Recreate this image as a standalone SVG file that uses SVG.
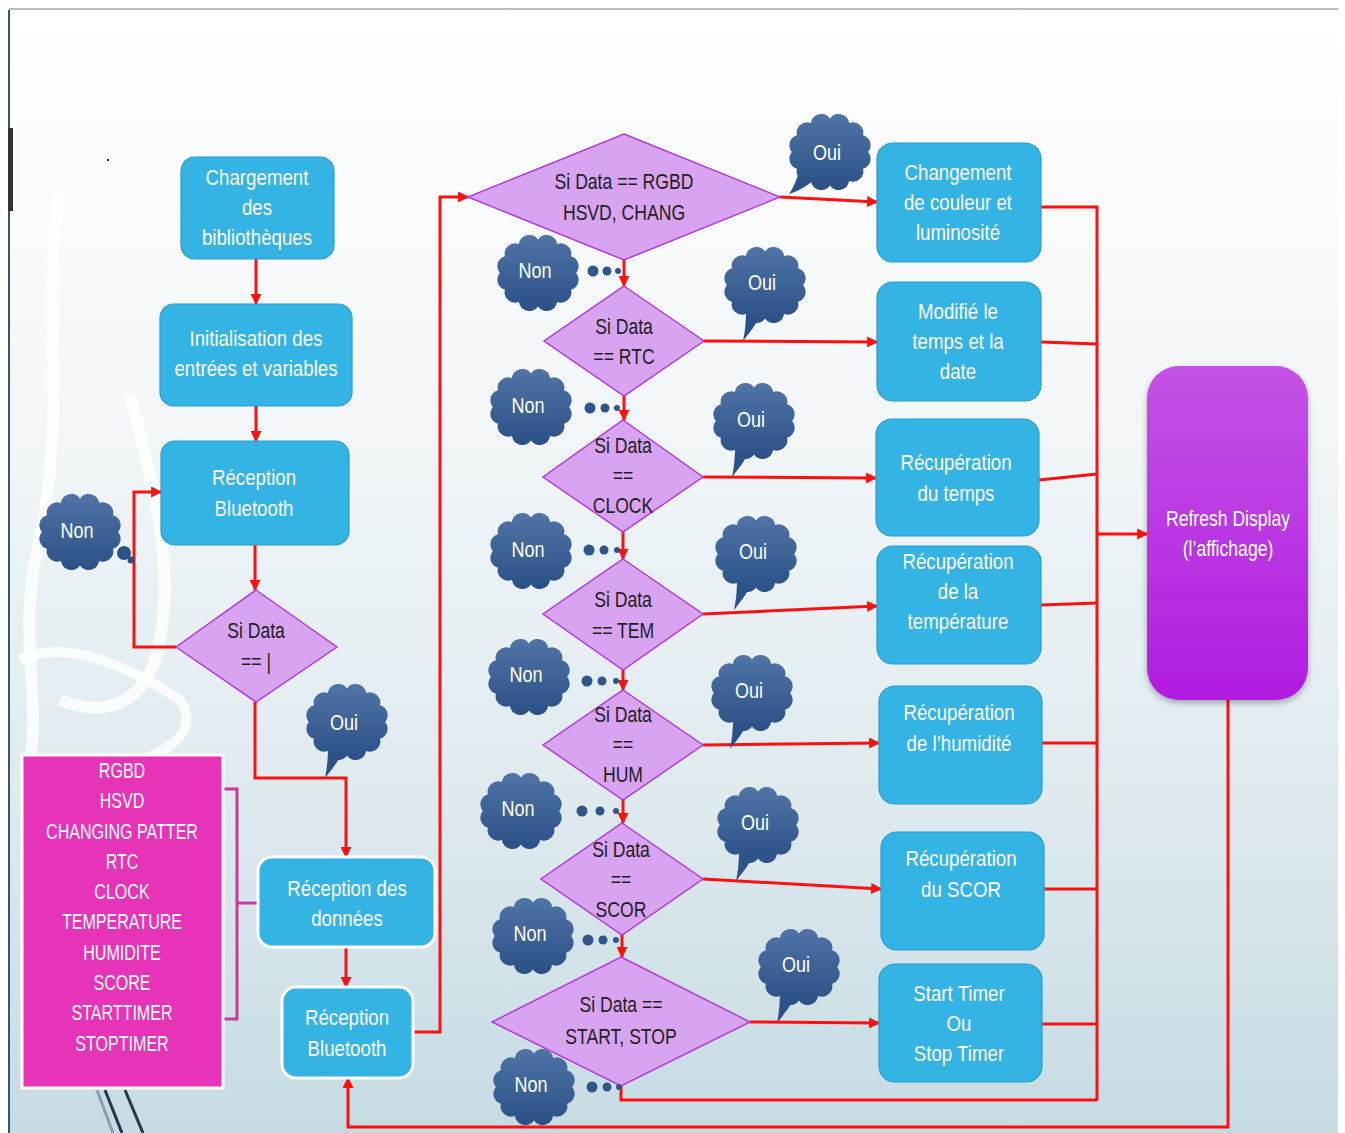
<svg xmlns="http://www.w3.org/2000/svg" xmlns:xlink="http://www.w3.org/1999/xlink" width="1345" height="1133" viewBox="0 0 1345 1133">
<defs>
<style>
.box{fill:#33b4e4;stroke:#2a9ccc;stroke-width:1.2}
.boxw{fill:#33b4e4;stroke:#ffffff;stroke-width:3}
.dia{fill:#d8a3f0;stroke:#b23bd8;stroke-width:1.5}
.t{font-family:"Liberation Sans",Arial,sans-serif;font-size:22px;text-anchor:middle}
.tw{fill:#ffffff}
.tk{fill:#1e1e1e}
.ln{fill:none;stroke:#ff1010;stroke-width:3;stroke-linejoin:miter}
.arr{marker-end:url(#ah)}
.dot{fill:#2f5589}
</style>
<linearGradient id="bg" x1="0" y1="0" x2="0" y2="1">
<stop offset="0" stop-color="#ffffff"/>
<stop offset="0.35" stop-color="#f3f7f9"/>
<stop offset="0.7" stop-color="#dfeaef"/>
<stop offset="1" stop-color="#c6dbe3"/>
</linearGradient>
<linearGradient id="cg" x1="0" y1="0" x2="0" y2="1">
<stop offset="0" stop-color="#5074a6"/>
<stop offset="1" stop-color="#2b5086"/>
</linearGradient>
<linearGradient id="rg" x1="0" y1="0" x2="0" y2="1">
<stop offset="0" stop-color="#c452e6"/>
<stop offset="1" stop-color="#b11ce0"/>
</linearGradient>
<filter id="sh" x="-10%" y="-10%" width="120%" height="120%">
<feDropShadow dx="0" dy="3" stdDeviation="3" flood-color="#000" flood-opacity="0.3"/>
</filter>
<marker id="ah" viewBox="0 0 10 10" refX="9" refY="5" markerWidth="12" markerHeight="11" markerUnits="userSpaceOnUse" orient="auto">
<path d="M0,0 L10,5 L0,10 Z" fill="#ff1010"/>
</marker>
<!-- bumpy cloud outline centred on 0,0 -->
<path id="cloud" fill="url(#cg)" transform="scale(1.06 1.05)" d="M36,0 A10,10 0 0 1 31.2,16 A10,10 0 0 1 18,27.7 A10,10 0 0 1 0,32 A10,10 0 0 1 -18,27.7 A10,10 0 0 1 -31.2,16 A10,10 0 0 1 -36,0 A10,10 0 0 1 -31.2,-16 A10,10 0 0 1 -18,-27.7 A10,10 0 0 1 0,-32 A10,10 0 0 1 18,-27.7 A10,10 0 0 1 31.2,-16 A10,10 0 0 1 36,0 Z"/>
<!-- cloud with a speech tail pointing down-left -->
<g id="cloudOui">
<path d="M-19,26 Q-19,42 -22,56 Q-12,44 -5,32 Z" fill="#2d5287"/>
<use xlink:href="#cloud"/>
</g>
</defs>

<g id="background">
<rect x="0" y="0" width="1345" height="1133" fill="#ffffff"/>
<rect x="9" y="9" width="1329" height="1124" fill="url(#bg)"/>
<path d="M60,190 C40,300 70,420 35,560 C20,640 40,700 30,760" fill="none" stroke="#ffffff" stroke-width="12" opacity="0.8"/>
<path d="M130,395 C150,470 175,560 160,640 C150,700 110,720 60,700" fill="none" stroke="#ffffff" stroke-width="12" opacity="0.8"/>
<path d="M20,660 C60,640 120,660 180,700 C200,730 170,750 140,760" fill="none" stroke="#ffffff" stroke-width="10" opacity="0.8"/>
<line x1="9" y1="9" x2="1338" y2="9" stroke="#bdbdbd" stroke-width="2"/>
<line x1="9" y1="10" x2="9" y2="1133" stroke="#3b5568" stroke-width="2"/>
<rect x="8" y="128" width="5" height="83" fill="#333333"/>
<circle cx="108" cy="160" r="1.2" fill="#333"/>
<line x1="97" y1="1090" x2="113" y2="1133" stroke="#8aa0ad" stroke-width="3"/>
<line x1="105" y1="1090" x2="122" y2="1133" stroke="#24384a" stroke-width="3"/>
<line x1="125" y1="1090" x2="143" y2="1133" stroke="#24384a" stroke-width="3"/>
</g>

<g id="connectors">
<path class="ln arr" d="M256,259 V304"/>
<path class="ln arr" d="M256,406 V441"/>
<path class="ln arr" d="M255,545 V590"/>
<path class="ln arr" d="M176,647 H134 V492 H161"/>
<path class="ln arr" d="M255,702 V778 H346 V857"/>
<path class="ln arr" d="M346,947 V987"/>
<path class="ln arr" d="M413,1032 H440 V197 H468"/>
<path class="ln arr" d="M1228,700 V1127 H348 V1078"/>
<path class="ln arr" d="M624,260 V286"/>
<path class="ln arr" d="M624,396 V420"/>
<path class="ln arr" d="M623,532 V559"/>
<path class="ln arr" d="M623,670 V690"/>
<path class="ln arr" d="M623,800 V823"/>
<path class="ln arr" d="M622,935 V957"/>
<path class="ln" d="M621,1086 V1100 H1097"/>
<path class="ln arr" d="M780,197 L877,202"/>
<path class="ln arr" d="M704,341 L877,342"/>
<path class="ln arr" d="M703,477 L876,478"/>
<path class="ln arr" d="M703,614 L877,606"/>
<path class="ln arr" d="M703,745 L879,743"/>
<path class="ln arr" d="M703,879 L881,889"/>
<path class="ln arr" d="M750,1022 L879,1023"/>
<path class="ln" d="M1041,207 H1097 V1100"/>
<path class="ln" d="M1041,342 L1097,344"/>
<path class="ln" d="M1039,480 L1097,474"/>
<path class="ln" d="M1041,605 L1097,603"/>
<path class="ln" d="M1042,743 H1097"/>
<path class="ln" d="M1044,889 H1097"/>
<path class="ln" d="M1042,1024 H1097"/>
<path class="ln arr" d="M1097,534 H1147"/>
<path d="M218,789 H237 V1019 H218 M237,903 H258" fill="none" stroke="#c43b9f" stroke-width="3"/>
</g>

<g id="n-chargement">
<rect class="box" x="181" y="157" width="153" height="102" rx="14"/>
<text class="t tw" transform="translate(257 185) scale(0.85 1)"><tspan x="0">Chargement</tspan><tspan x="0" dy="30">des</tspan><tspan x="0" dy="30">bibliothèques</tspan></text>
</g>
<g id="n-init">
<rect class="box" x="160" y="304" width="192" height="102" rx="14"/>
<text class="t tw" transform="translate(256 346) scale(0.85 1)"><tspan x="0">Initialisation des</tspan><tspan x="0" dy="30">entrées et variables</tspan></text>
</g>
<g id="n-bt1">
<rect class="box" x="161" y="441" width="188" height="104" rx="14"/>
<text class="t tw" transform="translate(254 485) scale(0.85 1)"><tspan x="0">Réception</tspan><tspan x="0" dy="31">Bluetooth</tspan></text>
</g>
<g id="d-pipe">
<polygon class="dia" points="256,590 337,647 256,702 176,647"/>
<text class="t tk" transform="translate(256 638) scale(0.8 1)"><tspan x="0">Si Data</tspan><tspan x="0" dy="31">== |</tspan></text>
</g>
<g id="n-list">
<rect x="22" y="755" width="201" height="333" fill="#e633b8" stroke="#ffffff" stroke-width="3"/>
<text class="t tw" transform="translate(122 778) scale(0.73 1)"><tspan x="0">RGBD</tspan><tspan x="0" dy="30.3">HSVD</tspan><tspan x="0" dy="30.3">CHANGING PATTER</tspan><tspan x="0" dy="30.3">RTC</tspan><tspan x="0" dy="30.3">CLOCK</tspan><tspan x="0" dy="30.3">TEMPERATURE</tspan><tspan x="0" dy="30.3">HUMIDITE</tspan><tspan x="0" dy="30.3">SCORE</tspan><tspan x="0" dy="30.3">STARTTIMER</tspan><tspan x="0" dy="30.3">STOPTIMER</tspan></text>
</g>
<g id="n-donnees">
<rect class="boxw" x="258" y="857" width="177" height="90" rx="14"/>
<text class="t tw" transform="translate(347 896) scale(0.85 1)"><tspan x="0">Réception des</tspan><tspan x="0" dy="30">données</tspan></text>
</g>
<g id="n-bt2">
<rect class="boxw" x="282" y="987" width="131" height="91" rx="14"/>
<text class="t tw" transform="translate(347 1025) scale(0.85 1)"><tspan x="0">Réception</tspan><tspan x="0" dy="31">Bluetooth</tspan></text>
</g>

<g id="d-rgbd">
<polygon class="dia" points="624,134 780,197 624,260 468,197"/>
<text class="t tk" transform="translate(624 189) scale(0.8 1)"><tspan x="0">Si Data == RGBD</tspan><tspan x="0" dy="31">HSVD, CHANG</tspan></text>
</g>
<g id="d-rtc">
<polygon class="dia" points="624,286 704,341 624,396 544,341"/>
<text class="t tk" transform="translate(624 334) scale(0.8 1)"><tspan x="0">Si Data</tspan><tspan x="0" dy="30">== RTC</tspan></text>
</g>
<g id="d-clock">
<polygon class="dia" points="623,420 703,477 623,532 543,477"/>
<text class="t tk" transform="translate(623 453) scale(0.8 1)"><tspan x="0">Si Data</tspan><tspan x="0" dy="30">==</tspan><tspan x="0" dy="30">CLOCK</tspan></text>
</g>
<g id="d-tem">
<polygon class="dia" points="623,559 703,614 623,670 543,614"/>
<text class="t tk" transform="translate(623 607) scale(0.8 1)"><tspan x="0">Si Data</tspan><tspan x="0" dy="31">== TEM</tspan></text>
</g>
<g id="d-hum">
<polygon class="dia" points="623,690 703,745 623,800 543,745"/>
<text class="t tk" transform="translate(623 722) scale(0.8 1)"><tspan x="0">Si Data</tspan><tspan x="0" dy="30">==</tspan><tspan x="0" dy="30">HUM</tspan></text>
</g>
<g id="d-scor">
<polygon class="dia" points="622,823 703,879 622,935 541,879"/>
<text class="t tk" transform="translate(621 857) scale(0.8 1)"><tspan x="0">Si Data</tspan><tspan x="0" dy="30">==</tspan><tspan x="0" dy="30">SCOR</tspan></text>
</g>
<g id="d-start">
<polygon class="dia" points="621,957 750,1022 621,1086 492,1022"/>
<text class="t tk" transform="translate(621 1012) scale(0.8 1)"><tspan x="0">Si Data ==</tspan><tspan x="0" dy="32">START, STOP</tspan></text>
</g>

<g id="n-couleur">
<rect class="box" x="877" y="143" width="164" height="119" rx="16"/>
<text class="t tw" transform="translate(958 180) scale(0.85 1)"><tspan x="0">Changement</tspan><tspan x="0" dy="30">de couleur et</tspan><tspan x="0" dy="30">luminosité</tspan></text>
</g>
<g id="n-temps">
<rect class="box" x="877" y="282" width="164" height="119" rx="16"/>
<text class="t tw" transform="translate(958 319) scale(0.85 1)"><tspan x="0">Modifié le</tspan><tspan x="0" dy="30">temps et la</tspan><tspan x="0" dy="30">date</tspan></text>
</g>
<g id="n-clock">
<rect class="box" x="876" y="419" width="163" height="117" rx="16"/>
<text class="t tw" transform="translate(956 470) scale(0.85 1)"><tspan x="0">Récupération</tspan><tspan x="0" dy="31">du temps</tspan></text>
</g>
<g id="n-temp">
<rect class="box" x="877" y="546" width="164" height="118" rx="16"/>
<text class="t tw" transform="translate(958 569) scale(0.85 1)"><tspan x="0">Récupération</tspan><tspan x="0" dy="30">de la</tspan><tspan x="0" dy="30">température</tspan></text>
</g>
<g id="n-hum">
<rect class="box" x="879" y="686" width="163" height="118" rx="16"/>
<text class="t tw" transform="translate(959 720) scale(0.85 1)"><tspan x="0">Récupération</tspan><tspan x="0" dy="31">de l’humidité</tspan></text>
</g>
<g id="n-scor">
<rect class="box" x="881" y="832" width="163" height="118" rx="16"/>
<text class="t tw" transform="translate(961 866) scale(0.85 1)"><tspan x="0">Récupération</tspan><tspan x="0" dy="31">du SCOR</tspan></text>
</g>
<g id="n-timer">
<rect class="box" x="879" y="964" width="163" height="118" rx="16"/>
<text class="t tw" transform="translate(959 1001) scale(0.85 1)"><tspan x="0">Start Timer</tspan><tspan x="0" dy="30">Ou</tspan><tspan x="0" dy="30">Stop Timer</tspan></text>
</g>
<g id="n-refresh">
<rect x="1147" y="366" width="161" height="334" rx="32" fill="url(#rg)" filter="url(#sh)"/>
<text class="t tw" transform="translate(1228 526) scale(0.8 1)"><tspan x="0">Refresh Display</tspan><tspan x="0" dy="30">(l’affichage)</tspan></text>
</g>

<g id="labels">
<g id="c-non0">
<circle cx="124" cy="553" r="7" fill="#2d5287"/>
<circle cx="131" cy="560" r="3.5" fill="#2d5287"/>
<use xlink:href="#cloud" transform="translate(80 532)"/>
<text class="t tw" transform="translate(77 538) scale(0.82 1)">Non</text>
</g>
<g id="c-oui0">
<use xlink:href="#cloudOui" transform="translate(347 722)"/>
<text class="t tw" transform="translate(344 730) scale(0.82 1)">Oui</text>
</g>
<g id="c-oui1">
<path d="M800,168 Q796,184 789,194 Q802,190 814,180 Z" fill="#2d5287"/>
<use xlink:href="#cloud" transform="translate(830 152)"/>
<text class="t tw" transform="translate(827 160) scale(0.82 1)">Oui</text>
</g>
<g id="c-oui2">
<use xlink:href="#cloudOui" transform="translate(765 285)"/>
<text class="t tw" transform="translate(762 290) scale(0.82 1)">Oui</text>
</g>
<g id="c-oui3">
<use xlink:href="#cloudOui" transform="translate(754 421)"/>
<text class="t tw" transform="translate(751 427) scale(0.82 1)">Oui</text>
</g>
<g id="c-oui4">
<use xlink:href="#cloudOui" transform="translate(756 554)"/>
<text class="t tw" transform="translate(753 559) scale(0.82 1)">Oui</text>
</g>
<g id="c-oui5">
<use xlink:href="#cloudOui" transform="translate(752 693)"/>
<text class="t tw" transform="translate(749 698) scale(0.82 1)">Oui</text>
</g>
<g id="c-oui6">
<use xlink:href="#cloudOui" transform="translate(758 825)"/>
<text class="t tw" transform="translate(755 830) scale(0.82 1)">Oui</text>
</g>
<g id="c-oui7">
<use xlink:href="#cloudOui" transform="translate(799 967)"/>
<text class="t tw" transform="translate(796 972) scale(0.82 1)">Oui</text>
</g>
<g id="c-non1">
<use xlink:href="#cloud" transform="translate(538 273)"/>
<text class="t tw" transform="translate(535 278) scale(0.82 1)">Non</text>
<circle class="dot" cx="593" cy="271" r="5.5"/><circle class="dot" cx="607" cy="271" r="4.5"/><circle class="dot" cx="618" cy="271" r="3"/>
</g>
<g id="c-non2">
<use xlink:href="#cloud" transform="translate(531 407)"/>
<text class="t tw" transform="translate(528 413) scale(0.82 1)">Non</text>
<circle class="dot" cx="590" cy="408" r="5.5"/><circle class="dot" cx="605" cy="408" r="4.5"/><circle class="dot" cx="617" cy="408" r="3"/>
</g>
<g id="c-non3">
<use xlink:href="#cloud" transform="translate(531 551)"/>
<text class="t tw" transform="translate(528 557) scale(0.82 1)">Non</text>
<circle class="dot" cx="589" cy="550" r="5.5"/><circle class="dot" cx="604" cy="550" r="4.5"/><circle class="dot" cx="617" cy="550" r="3"/>
</g>
<g id="c-non4">
<use xlink:href="#cloud" transform="translate(529 677)"/>
<text class="t tw" transform="translate(526 682) scale(0.82 1)">Non</text>
<circle class="dot" cx="587" cy="681" r="5.5"/><circle class="dot" cx="602" cy="681" r="4.5"/><circle class="dot" cx="616" cy="681" r="3"/>
</g>
<g id="c-non5">
<use xlink:href="#cloud" transform="translate(521 811)"/>
<text class="t tw" transform="translate(518 816) scale(0.82 1)">Non</text>
<circle class="dot" cx="582" cy="811" r="5.5"/><circle class="dot" cx="600" cy="811" r="4.5"/><circle class="dot" cx="616" cy="811" r="3"/>
</g>
<g id="c-non6">
<use xlink:href="#cloud" transform="translate(533 936)"/>
<text class="t tw" transform="translate(530 941) scale(0.82 1)">Non</text>
<circle class="dot" cx="588" cy="940" r="5.5"/><circle class="dot" cx="603" cy="940" r="4.5"/><circle class="dot" cx="616" cy="940" r="3"/>
</g>
<g id="c-non7">
<use xlink:href="#cloud" transform="translate(534 1087)"/>
<text class="t tw" transform="translate(531 1092) scale(0.82 1)">Non</text>
<circle class="dot" cx="592" cy="1087" r="5.5"/><circle class="dot" cx="607" cy="1087" r="4.5"/><circle class="dot" cx="619" cy="1087" r="3"/>
</g>
</g>
</svg>
